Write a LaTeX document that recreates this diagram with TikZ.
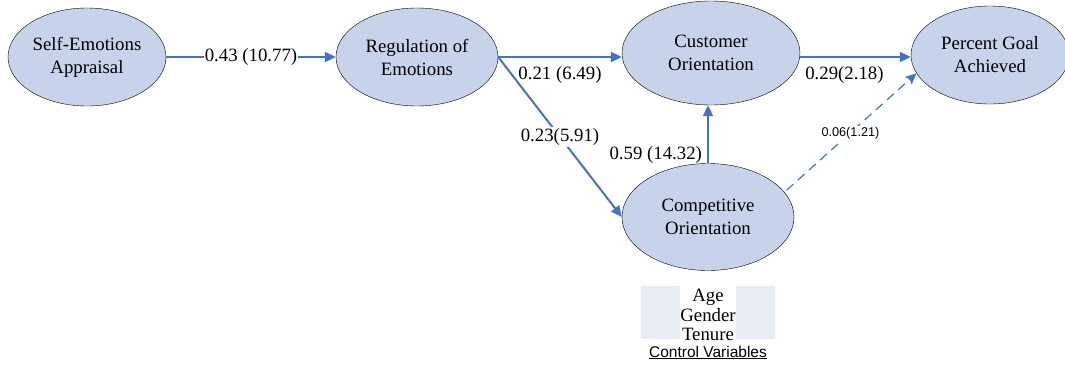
\documentclass[tikz,border=0pt]{standalone}
\usepackage{fontspec}
\setmainfont{Liberation Serif}
\setsansfont{Liberation Sans}
\usepackage{tikz}
\usetikzlibrary{arrows.meta,positioning,shapes.geometric}
\definecolor{pfblue}   {HTML}{4472C4}
\definecolor{pffill}   {HTML}{C6D3EA}
\definecolor{pfmist}   {HTML}{E8ECF5}
\tikzset{
  pfconstruct/.style={ellipse, draw=black, fill=pffill, thin, align=center,
                      minimum width=158pt, minimum height=98pt, inner sep=0pt,
                      font=\fontsize{18.8}{23}\selectfont},
  pfpath/.style={-{Triangle[length=11pt,width=10pt]}, draw=pfblue, line width=2pt},
  pfweak/.style={-{Stealth[length=11pt,width=10pt,inset=2pt]}, draw=pfblue,
                 line width=1.2pt, dash pattern=on 9pt off 6pt},
  pflabel/.style={font=\fontsize{18.8}{22}\selectfont, inner sep=1pt},
  pfsmall/.style={font=\sffamily\fontsize{12.7}{14}\selectfont, inner sep=1pt},
}
\begin{document}
\begin{tikzpicture}[x=1pt,y=-1pt]
  \useasboundingbox (0,0) rectangle (1065,364);
  \node[pfconstruct] (sea) at (87,57)   {Self-Emotions\\Appraisal};
  \node[pfconstruct, minimum width=162pt] (roe) at (417,57) {Regulation of\\Emotions};
  \node[pfconstruct, minimum width=178pt, minimum height=104pt] (cuo) at (711,53) {Customer\\Orientation};
  \node[pfconstruct, minimum width=172pt, minimum height=107pt] (cpo) at (708,217) {Competitive\\Orientation};
  \node[pfconstruct] (pga) at (990,55)  {Percent Goal\\Achieved};
  \draw[pfpath] (sea) -- node[pflabel, fill=white] {0.43 (10.77)} (roe);
  \draw[pfpath] (roe.east) -- node[pflabel, below=7pt] {0.21 (6.49)} (cuo.west |- roe.east);
  \draw[pfpath] (roe.east) -- node[pflabel, fill=white, pos=0.5] {0.23(5.91)} (cpo.west);
  \draw[pfpath] (cpo.north) -- node[pflabel, left=4pt, pos=0.15] {0.59 (14.32)} (cpo.north |- cuo.south);
  \draw[pfpath] (cuo.east |- roe.east) -- node[pflabel, below=7pt, pos=0.4] {0.29(2.18)} (pga.west |- roe.east);
  \draw[pfweak, shorten <=3pt] (cpo.18) -- node[pfsmall, fill=white, pos=0.5] {0.06(1.21)} (pga.194);
  % control variables
  \fill[pfmist] (641,286) rectangle (775,339);
  \node[fill=white, align=center, inner sep=0pt, minimum height=58pt,
        font=\fontsize{18.8}{19.5}\selectfont] (ctl) at (708,315) {Age\\Gender\\Tenure};
  \node[font=\sffamily\fontsize{15.5}{17}\selectfont, below=1pt of ctl, inner sep=0.5pt] (ctlname)
    {\underline{Control Variables}};
\end{tikzpicture}
\end{document}
